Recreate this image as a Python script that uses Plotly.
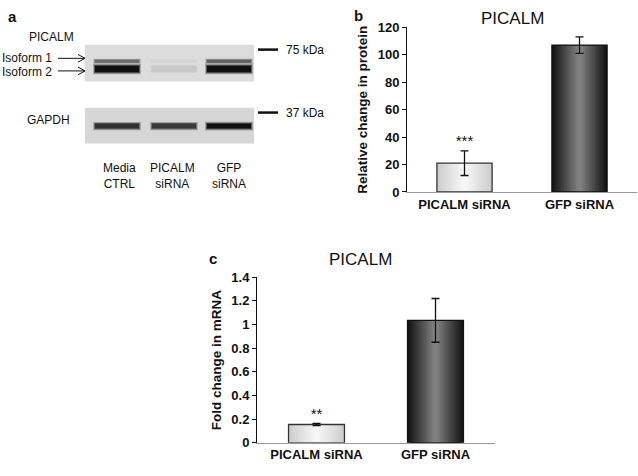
import plotly.graph_objects as go

W, H = 638, 476
FONT = "Arial, Liberation Sans, sans-serif"

# ─── data ────────────────────────────────────────────────────────────────────
groups = ["PICALM siRNA", "GFP siRNA"]
protein = [21, 107]
protein_err = [9, 6]
mrna = [0.155, 1.035]
mrna_err = [0.01, 0.185]
protein_sig = ["***", ""]
mrna_sig = ["**", ""]

lanes = ["Media<br>CTRL", "PICALM<br>siRNA", "GFP<br>siRNA"]
isoform1 = [0.55, 0.06, 0.6]   # band darkness 0..1
isoform2 = [0.97, 0.12, 0.97]
gapdh = [0.82, 0.78, 0.97]

# ─── helpers ─────────────────────────────────────────────────────────────────

def mix(c1, c2, t):
    return "rgb(%d,%d,%d)" % tuple(round(a + (b - a) * t) for a, b in zip(c1, c2))


def add_bar_panel(fig, vals, errs, sig, xa, ya, width, sig_y):
    # fake horizontal gradient: stacked bars, narrower and lighter towards the centre
    n = 18
    light = ((205, 205, 205), (246, 246, 246))
    dark = ((20, 20, 20), (128, 128, 128))
    for k in range(n):
        t = k / (n - 1)
        colors = [mix(*light, t), mix(*dark, t)]
        fig.add_trace(go.Bar(
            x=groups, y=vals, width=width * (1 - 0.92 * t),
            marker=dict(color=colors, line=dict(width=0)),
            xaxis=xa, yaxis=ya, showlegend=False, hoverinfo="skip",
        ))
    fig.add_trace(go.Bar(
        x=groups, y=vals, width=width,
        marker=dict(color="rgba(0,0,0,0)", line=dict(color=["#333", "#111"], width=1.3)),
        xaxis=xa, yaxis=ya, showlegend=False, hoverinfo="skip",
    ))
    fig.add_trace(go.Scatter(
        x=groups, y=vals, mode="markers", marker=dict(opacity=0),
        error_y=dict(type="data", array=errs, color="#111", thickness=1.3, width=4),
        xaxis=xa, yaxis=ya, showlegend=False, hoverinfo="skip",
    ))
    fig.add_trace(go.Scatter(
        x=groups, y=sig_y, mode="text", text=sig,
        textfont=dict(family=FONT, size=15, color="#111"),
        xaxis=xa, yaxis=ya, showlegend=False, hoverinfo="skip",
    ))


fig = go.Figure()

# ─── panel a : western blot (pixel coordinates on hidden axis) ───────────────
lane_x = [117, 174, 229]
half = 22
bands = [(isoform1, 56, 3), (isoform2, 64, 6.5), (gapdh, 123, 5)]
for vals, yy, lw in bands:
    for cx, v in zip(lane_x, vals):
        g = 215 * (1 - v) + 10
        col = mix((g, g, g), (g, g, g), 0)
        for extra, op in [(4, 0.25), (2, 0.5), (0, 1.0)]:
            fig.add_trace(go.Scatter(
                x=[cx - half - extra / 2, cx + half + extra / 2], y=[yy, yy], mode="lines",
                line=dict(color=col, width=lw + extra * v),
                opacity=op, xaxis="x3", yaxis="y3", showlegend=False, hoverinfo="skip",
            ))

shapes = [
    dict(type="rect", xref="x3", yref="y3", x0=85, x1=254, y0=39, y1=77,
         fillcolor="#dcdcdc", line=dict(width=0), layer="below"),
    dict(type="rect", xref="x3", yref="y3", x0=85, x1=254, y0=104, y1=141,
         fillcolor="#d6d6d6", line=dict(width=0), layer="below"),
    dict(type="line", xref="x3", yref="y3", x0=258, x1=278, y0=44, y1=44,
         line=dict(color="#111", width=2.5)),
    dict(type="line", xref="x3", yref="y3", x0=258, x1=278, y0=109, y1=109,
         line=dict(color="#111", width=2.5)),
    dict(type="path", xref="x3", yref="y3",
         path="M 58 53 L 85 53 M 78 49 L 85 53 L 78 57", line=dict(color="#111", width=1)),
    dict(type="path", xref="x3", yref="y3",
         path="M 58 66 L 85 66 M 78 62 L 85 66 L 78 70", line=dict(color="#111", width=1)),
]

ann = []


def txt(x, y, s, size=12, bold=False, xanchor="center", xref="x3", yref="y3"):
    ann.append(dict(x=x, y=y, text=s, xref=xref, yref=yref, showarrow=False,
                    xanchor=xanchor, yanchor="middle",
                    font=dict(family=FONT, size=size, color="#111",
                              weight="bold" if bold else "normal")))


txt(12, 10, "a", 15, True)
txt(27, 31, "PICALM", 12, xanchor="left")
txt(0, 53, "Isoform 1", 12, xanchor="left")
txt(0, 67, "Isoform 2", 12, xanchor="left")
txt(25, 117, "GAPDH", 12, xanchor="left")
txt(284, 44, "75 kDa", 12, xanchor="left")
txt(284, 109, "37 kDa", 12, xanchor="left")
for cx, lab in zip([119, 172, 229], lanes):
    txt(cx, 175, lab, 12)

# panel labels and titles
txt(358, 9, "b", 15, True)
txt(512, 12, "PICALM", 17)
txt(213, 260, "c", 15, True)
txt(360, 261, "PICALM", 17)

# ─── panels b and c : bar charts ─────────────────────────────────────────────
add_bar_panel(fig, protein, protein_err, protein_sig, "x", "y", 0.48,
              [p + e + 6 for p, e in zip(protein, protein_err)])
add_bar_panel(fig, mrna, mrna_err, mrna_sig, "x2", "y2", 0.47,
              [m + e + 0.07 for m, e in zip(mrna, mrna_err)])

tick_font = dict(family=FONT, size=13, color="#111", weight="bold")
xcommon = dict(type="category", range=[-0.5, 1.5], showline=True, linecolor="#999",
               linewidth=1, ticks="", tickfont=tick_font, showgrid=False, zeroline=False)
ycommon = dict(showline=True, linecolor="#111", linewidth=1, ticks="outside", ticklen=4,
               tickcolor="#111", tickfont=tick_font, showgrid=False, zeroline=False,
               title_font=dict(family=FONT, size=13.5, color="#111", weight="bold"))

fig.update_layout(
    width=W, height=H, margin=dict(l=0, r=0, t=0, b=0),
    paper_bgcolor="white", plot_bgcolor="rgba(0,0,0,0)",
    barmode="overlay", showlegend=False,
    xaxis=dict(domain=[407 / W, 637 / W], anchor="y", **xcommon),
    yaxis=dict(domain=[1 - 191 / H, 1 - 21 / H], anchor="x", range=[0, 120], dtick=20,
               title_text="Relative change in protein", title_standoff=6, **ycommon),
    xaxis2=dict(domain=[257 / W, 495 / W], anchor="y2", **xcommon),
    yaxis2=dict(domain=[1 - 450 / H, 1 - 279 / H], anchor="x2", range=[0, 1.4], dtick=0.2,
                tickformat="~g", title_text="Fold change in mRNA", title_standoff=6, **ycommon),
    xaxis3=dict(domain=[0, 1], range=[0, W], visible=False, anchor="y3"),
    yaxis3=dict(domain=[0, 1], range=[H, 0], visible=False, anchor="x3"),
    shapes=shapes, annotations=ann,
)

fig.write_html("out.html", config={"displayModeBar": False},
               post_script="document.body.style.margin='0';")
